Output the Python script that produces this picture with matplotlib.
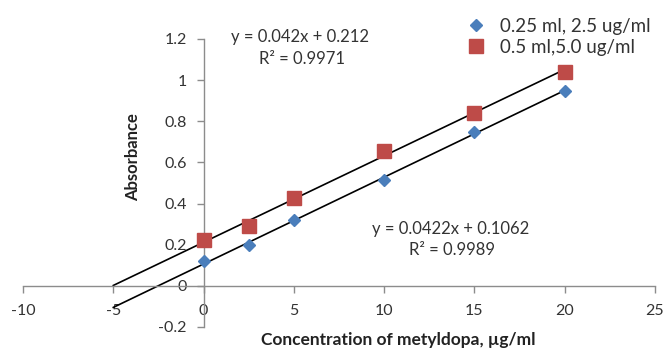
import matplotlib
matplotlib.use("Agg")
import matplotlib.pyplot as plt
import numpy as np

plt.rcParams['font.family'] = ['Lato', 'DejaVu Sans']

conc = [0, 2.5, 5, 10, 15, 20]
abs_low = [0.12, 0.20, 0.32, 0.515, 0.75, 0.945]
abs_high = [0.225, 0.29, 0.425, 0.655, 0.84, 1.04]
series_labels = ["0.25 ml, 2.5 ug/ml", "0.5 ml,5.0 ug/ml"]
fit_low = (0.0422, 0.1062)
fit_high = (0.042, 0.212)
fit_range = (-5, 20)
eq_low = ["y = 0.0422x + 0.1062", "R² = 0.9989"]
eq_high = ["y = 0.042x + 0.212", "R² = 0.9971"]
xticks = [-10, -5, 0, 5, 10, 15, 20, 25]
yticks = [-0.2, 0, 0.2, 0.4, 0.6, 0.8, 1, 1.2]
ytick_labels = ["-0.2", "0", "0.2", "0.4", "0.6", "0.8", "1", "1.2"]

fig = plt.figure(figsize=(6.64, 3.49), dpi=100)
ax = fig.add_axes([23/664, 1-327/349, (655-23)/664, (327-39)/349])

blue = '#4A7EBB'
red = '#BE4B48'
txt = '#333333'

xs = np.array(fit_range)
ax.plot(xs, fit_high[0]*xs + fit_high[1], color='black', lw=1.2, zorder=2)
ax.plot(xs, fit_low[0]*xs + fit_low[1], color='black', lw=1.2, zorder=2)
ax.plot(conc, abs_low, linestyle='none', marker='D', ms=6.5, color=blue,
        label=series_labels[0], zorder=3)
ax.plot(conc, abs_high, linestyle='none', marker='s', ms=9.5, color=red,
        label=series_labels[1], zorder=3)

ax.set_xlim(-10, 25)
ax.set_ylim(-0.2, 1.2)
ax.spines['left'].set_position(('data', 0))
ax.spines['bottom'].set_position(('data', 0))
ax.spines['top'].set_visible(False)
ax.spines['right'].set_visible(False)
for s in ('left', 'bottom'):
    ax.spines[s].set_color('#8c8c8c')
    ax.spines[s].set_linewidth(1.0)
ax.set_xticks(xticks)
ax.set_xticklabels([str(t) for t in xticks])
ax.set_yticks(yticks)
ax.set_yticklabels(ytick_labels)
ax.tick_params(axis='both', colors='#8c8c8c', labelcolor=txt, labelsize=11.5,
               length=5, width=1.0, direction='out')
ax.tick_params(axis='x', pad=8)
ax.tick_params(axis='y', pad=7)
ax.patch.set_visible(False)

fig.text(133/664, 1-157/349, "Absorbance", rotation=90, ha='center', va='center',
         fontsize=12, fontweight='bold', color='#222222')
fig.text(398/664, 1-340/349, "Concentration of metyldopa, µg/ml", ha='center',
         va='center', fontsize=12.5, fontweight='bold', color='#222222')

fs = 12
fig.text(300/664, 1-37/349, eq_high[0], ha='center', va='center', fontsize=fs, color=txt)
fig.text(302/664, 1-59/349, eq_high[1], ha='center', va='center', fontsize=fs, color=txt)
fig.text(451/664, 1-229/349, eq_low[0], ha='center', va='center', fontsize=fs, color=txt)
fig.text(452/664, 1-250/349, eq_low[1], ha='center', va='center', fontsize=fs, color=txt)

leg = fig.legend(loc='upper left', bbox_to_anchor=(467/664, 1-18/349), frameon=False,
                 fontsize=13.5, handletextpad=0.75, labelspacing=0.2,
                 handlelength=1.0, borderaxespad=0, borderpad=0)
for t in leg.get_texts():
    t.set_color(txt)

fig.savefig('out.png', dpi=100)
